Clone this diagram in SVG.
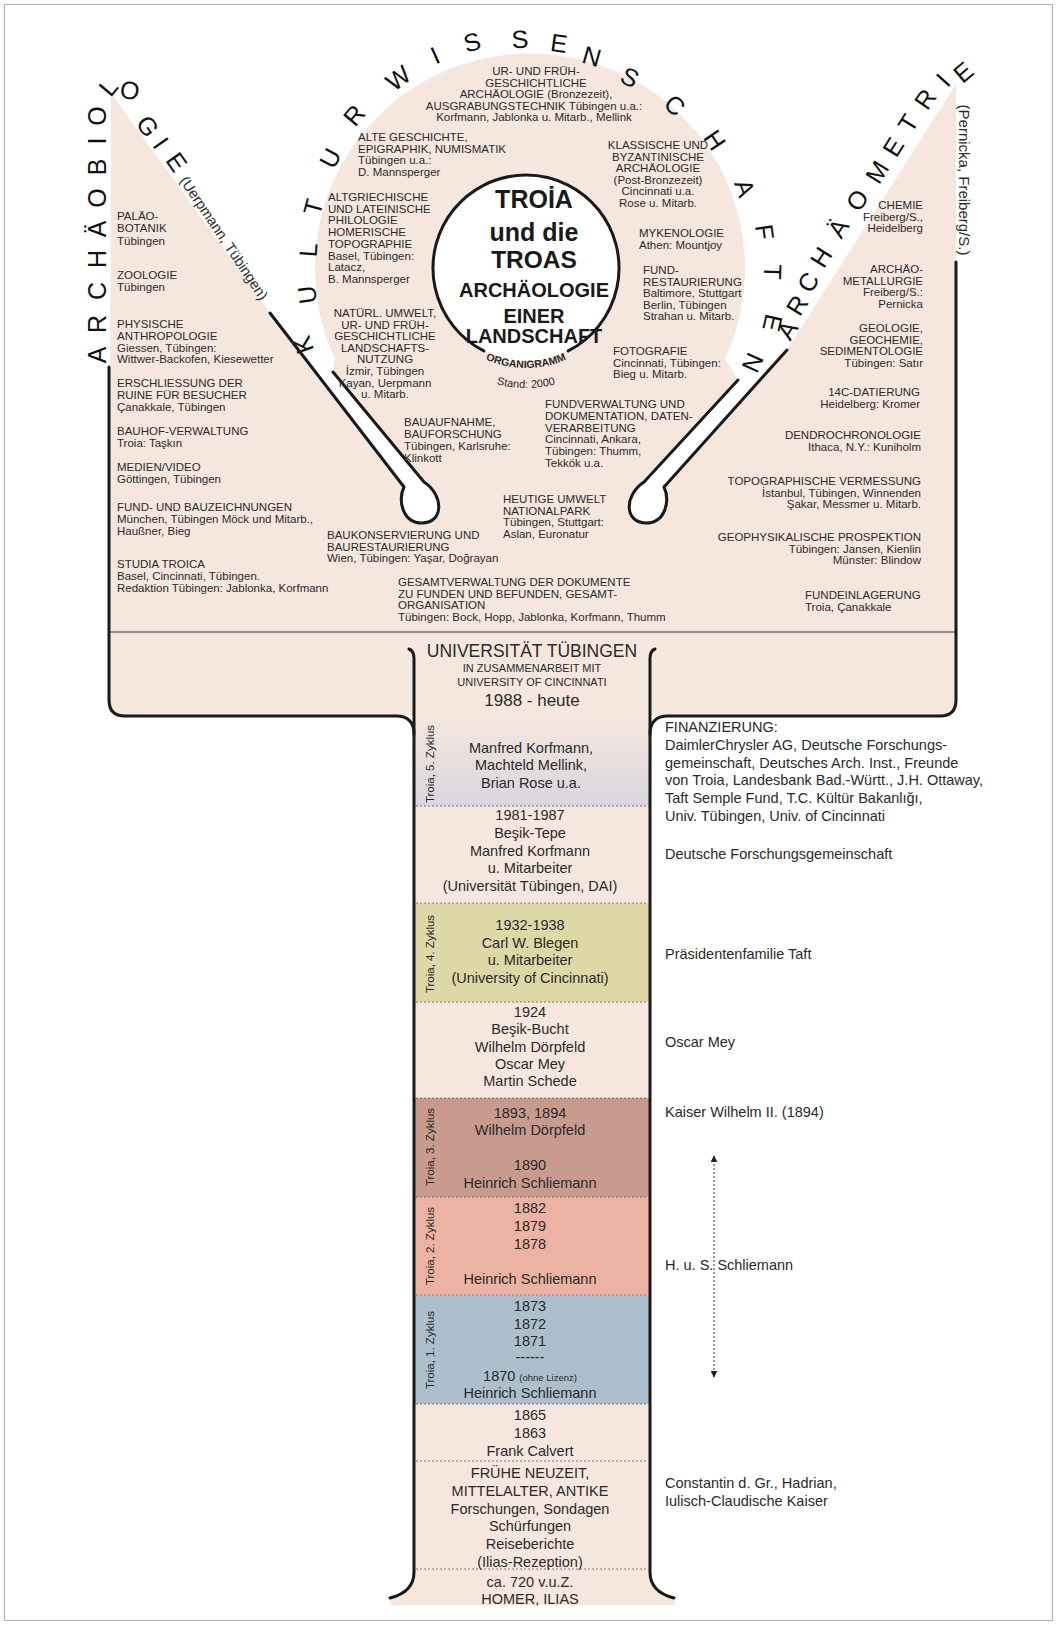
<svg xmlns="http://www.w3.org/2000/svg" width="1057" height="1625" viewBox="0 0 1057 1625">
<defs>
<style>
text{font-family:"Liberation Sans",Arial,sans-serif;fill:#2a2a2a}
.s{font-size:11.5px}
.m{font-size:14.5px}
.big{font-size:25px;fill:#111}
.c{text-anchor:middle}
.e{text-anchor:end}
.bl{dominant-baseline:central;text-anchor:middle}
.ln{fill:none;stroke:#1a1a1a;stroke-width:3;stroke-linecap:round;stroke-linejoin:round}
.dot{stroke:#7a7a7a;stroke-width:1;stroke-dasharray:2 2}
.tb{font-weight:bold;fill:#1a1a1a;text-anchor:middle}
</style>
<linearGradient id="g5" x1="0" y1="0" x2="0" y2="1">
<stop offset="0" stop-color="#f5e7de"/>
<stop offset="1" stop-color="#d9d6de"/>
</linearGradient>
<marker id="ah" viewBox="0 0 10 10" refX="9" refY="5" markerWidth="7" markerHeight="7" orient="auto-start-reverse">
<path d="M0,0 L10,5 L0,10 z" fill="#222"/>
</marker>
<path id="orgArc" d="M 473,352.8 A 100 100 0 0 0 579,352.8"/>
<path id="standArc" d="M 466,371.9 A 120 120 0 0 0 586,371.9"/>
</defs>

<rect x="0" y="0" width="1057" height="1625" fill="#ffffff"/>
<rect x="4.5" y="4.5" width="1048" height="1616" fill="none" stroke="#b0b0b0" stroke-width="1"/>

<g id="background">
<path d="M 111,93 L 109,700 Q 109,716 125,716 L 940,716 Q 956,716 956,700 L 956,84 L 787,350 L 664,487 C 670,500 666,523 646,523 C 624,523 624,495 644,482 L 738,380 L 725,359 A 215 215 0 1 0 335,359 L 333,372 L 424,482 C 444,495 444,523 422,523 C 402,523 398,500 404,487 L 270,313 Z" fill="#f5e7de"/>
<rect x="414" y="700" width="236" height="20" fill="#f5e7de"/>
<rect x="414" y="716" width="236" height="90" fill="url(#g5)"/>
<rect x="414" y="806" width="236" height="97" fill="#f5e7de"/>
<rect x="414" y="903" width="236" height="99" fill="#ded8a6"/>
<rect x="414" y="1002" width="236" height="96" fill="#f5e7de"/>
<rect x="414" y="1098" width="236" height="99" fill="#c99b8f"/>
<rect x="414" y="1197" width="236" height="98" fill="#ecb2a3"/>
<rect x="414" y="1295" width="236" height="109" fill="#abbfcc"/>
<rect x="414" y="1404" width="236" height="180" fill="#f5e7de"/>
<path d="M 390,1598 Q 414,1592 414,1572 L 650,1572 Q 650,1592 674,1598 L 675,1605 L 390,1605 Z" fill="#f5e7de"/>
</g>

<g id="connectors">
<line x1="109" y1="632" x2="956" y2="632" stroke="#333" stroke-width="1.2"/>
<path class="ln" d="M 109,367 L 109,700 Q 109,716 125,716 L 396,716 Q 414,716 414,734"/>
<path class="ln" d="M 956,262 L 956,700 Q 956,716 940,716 L 668,716 Q 650,716 650,734"/>
<path class="ln" d="M 409,649 Q 414,651 414,658 L 414,1572 Q 414,1592 390,1598"/>
<path class="ln" d="M 655,649 Q 650,651 650,658 L 650,1572 Q 650,1592 674,1598"/>
<path class="ln" d="M 270,313 L 404,487 C 398,500 402,523 422,523 C 444,523 444,495 424,482 L 333,372"/>
<path class="ln" d="M 787,350 L 664,487 C 670,500 666,523 646,523 C 624,523 624,495 644,482 L 738,380"/>
<g class="dot">
<line x1="416" y1="806" x2="648" y2="806"/>
<line x1="416" y1="903" x2="648" y2="903"/>
<line x1="416" y1="1002" x2="648" y2="1002"/>
<line x1="416" y1="1098" x2="648" y2="1098"/>
<line x1="416" y1="1197" x2="648" y2="1197"/>
<line x1="416" y1="1295" x2="648" y2="1295"/>
<line x1="416" y1="1404" x2="648" y2="1404"/>
<line x1="416" y1="1461" x2="648" y2="1461"/>
<line x1="416" y1="1569" x2="648" y2="1569"/>
</g>
<line x1="714" y1="1156" x2="714" y2="1377" stroke="#333" stroke-width="1" stroke-dasharray="2 2" marker-start="url(#ah)" marker-end="url(#ah)"/>
</g>

<g id="center-circle">
<circle cx="526" cy="268" r="93" fill="#ffffff"/>
<path class="ln" d="M 568.2,350.9 A 93 93 0 1 0 483.8,350.9"/>
<text class="tb" x="534" y="208" font-size="25">TROİA</text>
<text class="tb" x="534" y="241" font-size="25">und die</text>
<text class="tb" x="534" y="268" font-size="24.5">TROAS</text>
<text class="tb" x="534" y="297" font-size="20">ARCHÄOLOGIE</text>
<text class="tb" x="534" y="323" font-size="20">EINER</text>
<text class="tb" x="534" y="343" font-size="20">LANDSCHAFT</text>
<text font-size="10.5" font-weight="bold" fill="#1a1a1a"><textPath href="#orgArc" startOffset="50%" text-anchor="middle">ORGANIGRAMM</textPath></text>
<text font-size="11"><textPath href="#standArc" startOffset="50%" text-anchor="middle">Stand: 2000</textPath></text>
</g>

<g id="ring-kulturwissenschaften">
<text class="big bl" transform="translate(303,345) rotate(-109)">K</text>
<text class="big bl" transform="translate(307,295) rotate(-97)">U</text>
<text class="big bl" transform="translate(308,250) rotate(-86)">L</text>
<text class="big bl" transform="translate(313,207) rotate(-75)">T</text>
<text class="big bl" transform="translate(330,158) rotate(-62)">U</text>
<text class="big bl" transform="translate(354,115) rotate(-50)">R</text>
<text class="big bl" transform="translate(398,78) rotate(-37)">W</text>
<text class="big bl" transform="translate(435,55) rotate(-24)">I</text>
<text class="big bl" transform="translate(472,42) rotate(-15)">S</text>
<text class="big bl" transform="translate(520,39) rotate(-4)">S</text>
<text class="big bl" transform="translate(559,43) rotate(8)">E</text>
<text class="big bl" transform="translate(592,56) rotate(16)">N</text>
<text class="big bl" transform="translate(630,77) rotate(27)">S</text>
<text class="big bl" transform="translate(675,105) rotate(42)">C</text>
<text class="big bl" transform="translate(715,140) rotate(56)">H</text>
<text class="big bl" transform="translate(745,188) rotate(70)">A</text>
<text class="big bl" transform="translate(765,232) rotate(82)">F</text>
<text class="big bl" transform="translate(773,272) rotate(92)">T</text>
<text class="big bl" transform="translate(773,323) rotate(103)">E</text>
<text class="big bl" transform="translate(753,363) rotate(114)">N</text>
</g>

<g id="ring-archaeobiologie">
<text class="big bl" transform="translate(97,355) rotate(-90)">A</text>
<text class="big bl" transform="translate(97,324) rotate(-90)">R</text>
<text class="big bl" transform="translate(97,291) rotate(-90)">C</text>
<text class="big bl" transform="translate(97,259) rotate(-90)">H</text>
<text class="big bl" transform="translate(97,229) rotate(-90)">Ä</text>
<text class="big bl" transform="translate(97,198) rotate(-90)">O</text>
<text class="big bl" transform="translate(97,167) rotate(-90)">B</text>
<text class="big bl" transform="translate(97,141) rotate(-90)">I</text>
<text class="big bl" transform="translate(97,116) rotate(-90)">O</text>
<text class="big bl" transform="translate(108,87) rotate(-50)">L</text>
<text class="big bl" transform="translate(130,90) rotate(10)">O</text>
<text class="big bl" transform="translate(148,126) rotate(55)">G</text>
<text class="big bl" transform="translate(161,143) rotate(55)">I</text>
<text class="big bl" transform="translate(177,162) rotate(55)">E</text>
<text class="bl" font-size="14.5" transform="translate(224,238) rotate(56)">(Uerpmann, Tübingen)</text>
</g>

<g id="ring-archaeometrie">
<text class="big bl" transform="translate(787,330) rotate(-58)">A</text>
<text class="big bl" transform="translate(797,305) rotate(-58)">R</text>
<text class="big bl" transform="translate(808,282) rotate(-58)">C</text>
<text class="big bl" transform="translate(821,257) rotate(-58)">H</text>
<text class="big bl" transform="translate(838,228) rotate(-58)">Ä</text>
<text class="big bl" transform="translate(857,200) rotate(-58)">O</text>
<text class="big bl" transform="translate(877,172) rotate(-58)">M</text>
<text class="big bl" transform="translate(893,147) rotate(-58)">E</text>
<text class="big bl" transform="translate(908,123) rotate(-58)">T</text>
<text class="big bl" transform="translate(925,99) rotate(-55)">R</text>
<text class="big bl" transform="translate(943,80) rotate(-48)">I</text>
<text class="big bl" transform="translate(963,72) rotate(-40)">E</text>
<text class="bl" font-size="15" transform="translate(964,180) rotate(90)">(Pernicka, Freiberg/S.)</text>
</g>

<g id="left-topics" class="s">
<text x="117" y="220">PALÄO-<tspan x="117" dy="12.3">BOTANIK</tspan><tspan x="117" dy="12.3">Tübingen</tspan></text>
<text x="117" y="279">ZOOLOGIE<tspan x="117" dy="12">Tübingen</tspan></text>
<text x="117" y="328">PHYSISCHE<tspan x="117" dy="11.8">ANTHROPOLOGIE</tspan><tspan x="117" dy="11.8">Giessen, Tübingen:</tspan><tspan x="117" dy="11.8">Wittwer-Backofen, Kiesewetter</tspan></text>
<text x="117" y="387">ERSCHLIESSUNG DER<tspan x="117" dy="12">RUINE FÜR BESUCHER</tspan><tspan x="117" dy="12">Çanakkale, Tübingen</tspan></text>
<text x="117" y="435">BAUHOF-VERWALTUNG<tspan x="117" dy="12">Troia: Taşkın</tspan></text>
<text x="117" y="471">MEDIEN/VIDEO<tspan x="117" dy="12">Göttingen, Tübingen</tspan></text>
<text x="117" y="511">FUND- UND BAUZEICHNUNGEN<tspan x="117" dy="12">München, Tübingen Möck und Mitarb.,</tspan><tspan x="117" dy="12">Haußner, Bieg</tspan></text>
<text x="117" y="568">STUDIA TROICA<tspan x="117" dy="12">Basel, Cincinnati, Tübingen.</tspan><tspan x="117" dy="12">Redaktion Tübingen: Jablonka, Korfmann</tspan></text>
</g>

<g id="circle-topics" class="s">
<text class="c" x="536" y="75">UR- UND FRÜH-<tspan x="536" dy="11.5">GESCHICHTLICHE</tspan><tspan x="536" dy="11.5">ARCHÄOLOGIE (Bronzezeit),</tspan><tspan x="534" dy="11.5">AUSGRABUNGSTECHNIK Tübingen u.a.:</tspan><tspan x="534" dy="11.5">Korfmann, Jablonka u. Mitarb., Mellink</tspan></text>
<text x="358" y="141">ALTE GESCHICHTE,<tspan x="358" dy="11.7">EPIGRAPHIK, NUMISMATIK</tspan><tspan x="358" dy="11.7">Tübingen u.a.:</tspan><tspan x="358" dy="11.7">D. Mannsperger</tspan></text>
<text x="328" y="201">ALTGRIECHISCHE<tspan x="328" dy="11.7">UND LATEINISCHE</tspan><tspan x="328" dy="11.7">PHILOLOGIE</tspan><tspan x="328" dy="11.7">HOMERISCHE</tspan><tspan x="328" dy="11.7">TOPOGRAPHIE</tspan><tspan x="328" dy="11.7">Basel, Tübingen:</tspan><tspan x="328" dy="11.7">Latacz,</tspan><tspan x="328" dy="11.7">B. Mannsperger</tspan></text>
<text class="c" x="385" y="317">NATÜRL. UMWELT,<tspan x="385" dy="11.6">UR- UND FRÜH-</tspan><tspan x="385" dy="11.6">GESCHICHTLICHE</tspan><tspan x="385" dy="11.6">LANDSCHAFTS-</tspan><tspan x="385" dy="11.6">NUTZUNG</tspan><tspan x="385" dy="11.6">İzmir, Tübingen</tspan><tspan x="385" dy="11.6">Kayan, Uerpmann</tspan><tspan x="385" dy="11.6">u. Mitarb.</tspan></text>
<text class="c" x="658" y="149">KLASSISCHE UND<tspan x="658" dy="11.6">BYZANTINISCHE</tspan><tspan x="658" dy="11.6">ARCHÄOLOGIE</tspan><tspan x="658" dy="11.6">(Post-Bronzezeit)</tspan><tspan x="658" dy="11.6">Cincinnati u.a.</tspan><tspan x="658" dy="11.6">Rose u. Mitarb.</tspan></text>
<text x="639" y="237">MYKENOLOGIE<tspan x="639" dy="12">Athen: Mountjoy</tspan></text>
<text x="643" y="274">FUND-<tspan x="643" dy="11.6">RESTAURIERUNG</tspan><tspan x="643" dy="11.6">Baltimore, Stuttgart</tspan><tspan x="643" dy="11.6">Berlin, Tübingen</tspan><tspan x="643" dy="11.6">Strahan u. Mitarb.</tspan></text>
<text x="613" y="355">FOTOGRAFIE<tspan x="613" dy="11.6">Cincinnati, Tübingen:</tspan><tspan x="613" dy="11.6">Bieg u. Mitarb.</tspan></text>
<text x="404" y="426">BAUAUFNAHME,<tspan x="404" dy="12">BAUFORSCHUNG</tspan><tspan x="404" dy="12">Tübingen, Karlsruhe:</tspan><tspan x="404" dy="12">Klinkott</tspan></text>
<text x="545" y="408">FUNDVERWALTUNG UND<tspan x="545" dy="11.8">DOKUMENTATION, DATEN-</tspan><tspan x="545" dy="11.8">VERARBEITUNG</tspan><tspan x="545" dy="11.8">Cincinnati, Ankara,</tspan><tspan x="545" dy="11.8">Tübingen: Thumm,</tspan><tspan x="545" dy="11.8">Tekkök u.a.</tspan></text>
<text x="503" y="503">HEUTIGE UMWELT<tspan x="503" dy="11.7">NATIONALPARK</tspan><tspan x="503" dy="11.7">Tübingen, Stuttgart:</tspan><tspan x="503" dy="11.7">Aslan, Euronatur</tspan></text>
<text x="327" y="539">BAUKONSERVIERUNG UND<tspan x="327" dy="11.7">BAURESTAURIERUNG</tspan><tspan x="327" dy="11.7">Wien, Tübingen: Yaşar, Doğrayan</tspan></text>
<text x="398" y="586">GESAMTVERWALTUNG DER DOKUMENTE<tspan x="398" dy="11.7">ZU FUNDEN UND BEFUNDEN, GESAMT-</tspan><tspan x="398" dy="11.7">ORGANISATION</tspan><tspan x="398" dy="11.7">Tübingen: Bock, Hopp, Jablonka, Korfmann, Thumm</tspan></text>
</g>

<g id="right-topics" class="s">
<text class="e" x="923" y="209">CHEMIE<tspan x="923" dy="11.5">Freiberg/S.,</tspan><tspan x="923" dy="11.5">Heidelberg</tspan></text>
<text class="e" x="923" y="273">ARCHÄO-<tspan x="923" dy="11.5">METALLURGIE</tspan><tspan x="923" dy="11.5">Freiberg/S.:</tspan><tspan x="923" dy="11.5">Pernicka</tspan></text>
<text class="e" x="923" y="332">GEOLOGIE,<tspan x="923" dy="11.5">GEOCHEMIE,</tspan><tspan x="923" dy="11.5">SEDIMENTOLOGIE</tspan><tspan x="923" dy="11.5">Tübingen: Satır</tspan></text>
<text class="e" x="920" y="396">14C-DATIERUNG<tspan x="920" dy="11.5">Heidelberg: Kromer</tspan></text>
<text class="e" x="921" y="439">DENDROCHRONOLOGIE<tspan x="921" dy="11.5">Ithaca, N.Y.: Kuniholm</tspan></text>
<text class="e" x="921" y="485">TOPOGRAPHISCHE VERMESSUNG<tspan x="921" dy="11.5">İstanbul, Tübingen, Winnenden</tspan><tspan x="921" dy="11.5">Şakar, Messmer u. Mitarb.</tspan></text>
<text class="e" x="921" y="541">GEOPHYSIKALISCHE PROSPEKTION<tspan x="921" dy="11.5">Tübingen: Jansen, Kienlin</tspan><tspan x="921" dy="11.5">Münster: Blindow</tspan></text>
<text x="805" y="599">FUNDEINLAGERUNG<tspan x="805" dy="12">Troia, Çanakkale</tspan></text>
</g>

<g id="column-head">
<text class="c" x="532" y="657" font-size="17.5">UNIVERSITÄT TÜBINGEN</text>
<text class="c" x="532" y="672" font-size="11">IN ZUSAMMENARBEIT MIT</text>
<text class="c" x="532" y="686" font-size="11">UNIVERSITY OF CINCINNATI</text>
<text class="c" x="532" y="706" font-size="17">1988 - heute</text>
</g>

<g id="column-sections" class="m">
<text class="bl" font-size="11.5" transform="translate(430,764) rotate(-90)">Troia, 5. Zyklus</text>
<text class="c" x="531" y="753">Manfred Korfmann,<tspan x="531" dy="17.3">Machteld Mellink,</tspan><tspan x="531" dy="17.3">Brian Rose u.a.</tspan></text>
<text class="c" x="530" y="820">1981-1987<tspan x="530" dy="17.8">Beşik-Tepe</tspan><tspan x="530" dy="17.8">Manfred Korfmann</tspan><tspan x="530" dy="17.8">u. Mitarbeiter</tspan><tspan x="530" dy="17.8">(Universität Tübingen, DAI)</tspan></text>
<text class="bl" font-size="11.5" transform="translate(430,954) rotate(-90)">Troia, 4. Zyklus</text>
<text class="c" x="530" y="930">1932-1938<tspan x="530" dy="17.7">Carl W. Blegen</tspan><tspan x="530" dy="17.7">u. Mitarbeiter</tspan><tspan x="530" dy="17.7">(University of Cincinnati)</tspan></text>
<text class="c" x="530" y="1017">1924<tspan x="530" dy="17.3">Beşik-Bucht</tspan><tspan x="530" dy="17.3">Wilhelm Dörpfeld</tspan><tspan x="530" dy="17.3">Oscar Mey</tspan><tspan x="530" dy="17.3">Martin Schede</tspan></text>
<text class="bl" font-size="11.5" transform="translate(430,1147) rotate(-90)">Troia, 3. Zyklus</text>
<text class="c" x="530" y="1118">1893, 1894<tspan x="530" dy="17.3">Wilhelm Dörpfeld</tspan><tspan x="530" dy="35">1890</tspan><tspan x="530" dy="17.5">Heinrich Schliemann</tspan></text>
<text class="bl" font-size="11.5" transform="translate(430,1246) rotate(-90)">Troia, 2. Zyklus</text>
<text class="c" x="530" y="1213">1882<tspan x="530" dy="17.8">1879</tspan><tspan x="530" dy="17.8">1878</tspan><tspan x="530" dy="35">Heinrich Schliemann</tspan></text>
<text class="bl" font-size="11.5" transform="translate(430,1350) rotate(-90)">Troia, 1. Zyklus</text>
<text class="c" x="530" y="1311">1873<tspan x="530" dy="17.5">1872</tspan><tspan x="530" dy="17.5">1871</tspan><tspan x="530" dy="16">------</tspan><tspan x="530" dy="19">1870 <tspan font-size="9.5">(ohne Lizenz)</tspan></tspan><tspan x="530" dy="17.3">Heinrich Schliemann</tspan></text>
<text class="c" x="530" y="1420">1865<tspan x="530" dy="18">1863</tspan><tspan x="530" dy="18">Frank Calvert</tspan></text>
<text class="c" x="530" y="1478">FRÜHE NEUZEIT,<tspan x="530" dy="17.8">MITTELALTER, ANTIKE</tspan><tspan x="530" dy="17.8">Forschungen, Sondagen</tspan><tspan x="530" dy="17.8">Schürfungen</tspan><tspan x="530" dy="17.8">Reiseberichte</tspan><tspan x="530" dy="17.8">(Ilias-Rezeption)</tspan></text>
<text class="c" x="530" y="1587">ca. 720 v.u.Z.<tspan x="530" dy="16.5">HOMER, ILIAS</tspan></text>
</g>

<g id="funding" class="m">
<text x="665" y="732">FINANZIERUNG:<tspan x="665" dy="17.8">DaimlerChrysler AG, Deutsche Forschungs-</tspan><tspan x="665" dy="17.8">gemeinschaft, Deutsches Arch. Inst., Freunde</tspan><tspan x="665" dy="17.8">von Troia, Landesbank Bad.-Württ., J.H. Ottaway,</tspan><tspan x="665" dy="17.8">Taft Semple Fund, T.C. Kültür Bakanlığı,</tspan><tspan x="665" dy="17.8">Univ. Tübingen, Univ. of Cincinnati</tspan></text>
<text x="665" y="859">Deutsche Forschungsgemeinschaft</text>
<text x="665" y="959">Präsidentenfamilie Taft</text>
<text x="665" y="1047">Oscar Mey</text>
<text x="665" y="1117">Kaiser Wilhelm II. (1894)</text>
<text x="665" y="1270">H. u. S. Schliemann</text>
<text x="665" y="1488">Constantin d. Gr., Hadrian,<tspan x="665" dy="17.5">Iulisch-Claudische Kaiser</tspan></text>
</g>
</svg>
